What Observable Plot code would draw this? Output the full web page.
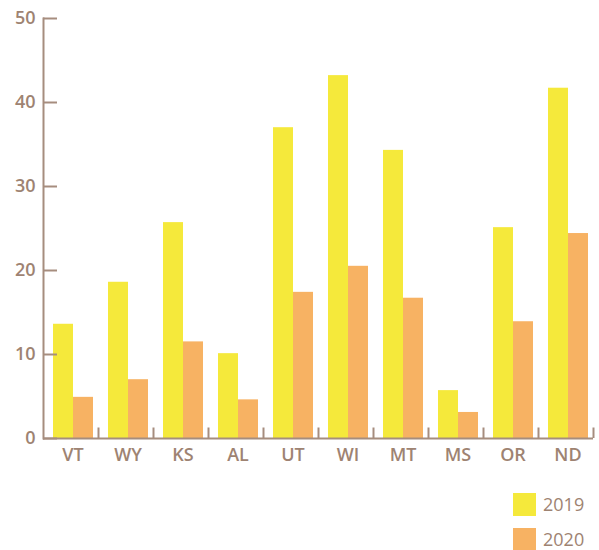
<!DOCTYPE html>
<html>
<head>
<meta charset="utf-8">
<script src="https://cdn.jsdelivr.net/npm/d3@7"></script>
<script src="https://cdn.jsdelivr.net/npm/@observablehq/plot@0.6"></script>
<style>
  body { margin: 0; background: #fff; font-family: "Open Sans", sans-serif; overflow: hidden; }
  #legend { position: absolute; left: 513px; top: 493px; }
  .item { display: flex; align-items: center; height: 23px; margin-bottom: 12px; }
  .sw { width: 23px; height: 23px; margin-right: 7px; flex: none; }
  .lab { font-size: 18px; line-height: 17px; color: #9e8372; }
</style>
</head>
<body>
<div id="chart"></div>
<div id="legend"></div>
<script>
const states = ["VT", "WY", "KS", "AL", "UT", "WI", "MT", "MS", "OR", "ND"];
const values2019 = [13.6, 18.6, 25.7, 10.1, 37.0, 43.2, 34.3, 5.7, 25.1, 41.7];
const values2020 = [4.9, 7.0, 11.5, 4.6, 17.4, 20.5, 16.7, 3.1, 13.9, 24.4];
const years = ["2019", "2020"];
const yTicks = [0, 10, 20, 30, 40, 50];

const colors = {"2019": "#f5e93b", "2020": "#f7b263"};
const axisColor = "#a68d7e";
const textColor = "#9e8372";

const d19 = states.map((s, i) => ({state: s, value: values2019[i]}));
const d20 = states.map((s, i) => ({state: s, value: values2020[i]}));

const chart = Plot.plot({
  width: 599,
  height: 475,
  marginTop: 18,
  marginBottom: 37,
  marginLeft: 43,
  marginRight: 6,
  style: {fontFamily: "'Open Sans', sans-serif", background: "#fff"},
  x: {domain: states, padding: 0},
  y: {domain: [0, 50]},
  marks: [
    Plot.barY(d19, {x: "state", y: "value", fill: colors["2019"], insetLeft: 10, insetRight: 25}),
    Plot.barY(d20, {x: "state", y: "value", fill: colors["2020"], insetLeft: 30, insetRight: 5}),
    Plot.ruleY([0], {stroke: axisColor, strokeWidth: 2}),
    Plot.frame({anchor: "left", stroke: axisColor, strokeWidth: 2}),
    Plot.tickY(yTicks, {y: d => d, x: () => "VT", stroke: axisColor, strokeWidth: 2, insetRight: 41}),
    Plot.ruleX(states, {x: d => d, dx: 27.5, y1: 0, y2: 1.25, stroke: axisColor, strokeWidth: 2}),
    Plot.axisY({ticks: yTicks, tickSize: 0, tickPadding: 8, label: null, fontSize: 18, fontWeight: 600, fill: textColor}),
    Plot.axisX({tickSize: 0, tickPadding: 10, dx: 2, label: null, fontSize: 18, fontWeight: 600, fill: textColor})
  ]
});
document.getElementById("chart").appendChild(chart);

const legend = document.getElementById("legend");
years.forEach(y => {
  const item = document.createElement("div");
  item.className = "item";
  const sw = document.createElement("div");
  sw.className = "sw";
  sw.style.background = colors[y];
  const lab = document.createElement("span");
  lab.className = "lab";
  lab.textContent = y;
  item.appendChild(sw);
  item.appendChild(lab);
  legend.appendChild(item);
});
</script>
</body>
</html>
